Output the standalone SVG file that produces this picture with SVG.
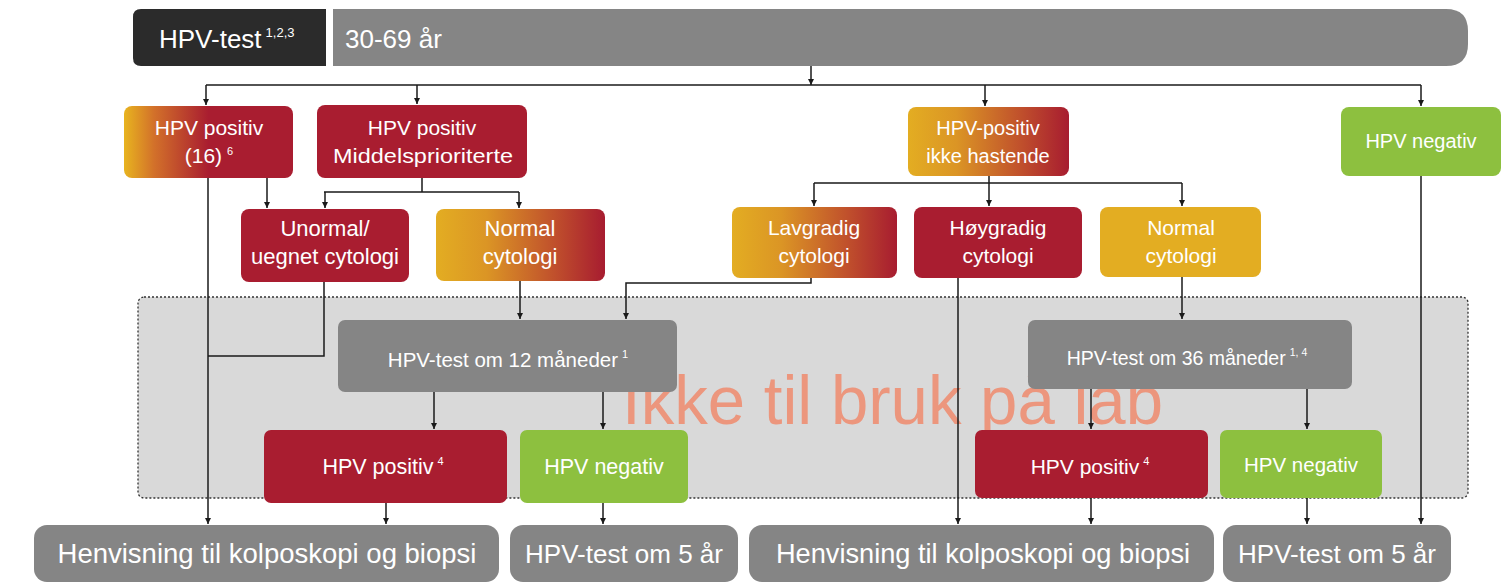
<svg xmlns="http://www.w3.org/2000/svg" width="1512" height="586" viewBox="0 0 1512 586">
<defs>
<linearGradient id="g16" x1="0" y1="0" x2="1" y2="0">
<stop offset="0" stop-color="#E8B41F"/>
<stop offset="0.18" stop-color="#D2702A"/>
<stop offset="0.5" stop-color="#A91D30"/>
<stop offset="1" stop-color="#A91D30"/>
</linearGradient>
<linearGradient id="gyr" x1="0" y1="0" x2="1" y2="0">
<stop offset="0" stop-color="#E3AD22"/>
<stop offset="0.3" stop-color="#DB9525"/>
<stop offset="0.7" stop-color="#C0502C"/>
<stop offset="1" stop-color="#A71C30"/>
</linearGradient>
<marker id="ah" viewBox="0 0 10 10" refX="10" refY="5" markerWidth="6" markerHeight="6" markerUnits="userSpaceOnUse" orient="auto">
<path d="M0,0 L10,5 L0,10 z" fill="#1a1a1a"/>
</marker>
<style>
.t{font-family:"Liberation Sans",Arial,sans-serif;fill:#fff;text-anchor:middle}
.red{fill:#A91D30}
.grn{fill:#8DC03F}
.yel{fill:#E3AD22}
.gry{fill:#858585}
.c{fill:none;stroke:#1a1a1a;stroke-width:1.5}
.a{marker-end:url(#ah)}
</style>
</defs>
<rect width="1512" height="586" fill="#fff"/>

<!-- shaded region -->
<rect id="region" x="138" y="297" width="1330" height="201" rx="6" fill="#D9D9D9" stroke="#333" stroke-width="1.3" stroke-dasharray="2,2"/>

<!-- watermark -->
<text x="622" y="424" font-family="Liberation Sans,Arial,sans-serif" font-size="68" textLength="541" lengthAdjust="spacingAndGlyphs" fill="#EE8A6C" fill-opacity="0.85">Ikke til bruk på lab</text>

<!-- top bar -->
<g id="top-left">
<path d="M141,9 H326 V66 H141 Q133,66 133,58 V17 Q133,9 141,9 Z" fill="#2B2B2B"/>
<text x="159" y="48" font-family="Liberation Sans,Arial,sans-serif" font-size="26" fill="#fff">HPV-test<tspan dx="4" dy="-11" font-size="13">1,2,3</tspan></text>
</g>
<g id="top-bar">
<path d="M333,9 H1446 Q1468,9 1468,31 V44 Q1468,66 1446,66 H333 Z" fill="#858585"/>
<text x="345" y="48" font-family="Liberation Sans,Arial,sans-serif" font-size="26" fill="#fff">30-69 år</text>
</g>

<!-- row 1 -->
<g id="n-pos16">
<rect x="124" y="106" width="169" height="72" rx="8" fill="url(#g16)"/>
<text class="t" x="209" y="135" font-size="21">HPV positiv</text>
<text class="t" x="209" y="163" font-size="21">(16)<tspan dx="5" dy="-8" font-size="11">6</tspan></text>
</g>
<g id="n-mid">
<rect class="red" x="317" y="105" width="210" height="73" rx="8"/>
<text class="t" x="422" y="135" font-size="21">HPV positiv</text>
<text class="t" x="423" y="163" font-size="21" textLength="180" lengthAdjust="spacingAndGlyphs">Middelsprioriterte</text>
</g>
<g id="n-ikke">
<rect x="908" y="107" width="161" height="69" rx="8" fill="url(#gyr)"/>
<text class="t" x="988" y="135" font-size="20">HPV-positiv</text>
<text class="t" x="988" y="163" font-size="20">ikke hastende</text>
</g>
<g id="n-neg">
<rect class="grn" x="1341" y="107" width="160" height="69" rx="8"/>
<text class="t" x="1421" y="148" font-size="20">HPV negativ</text>
</g>

<!-- row 2 -->
<g id="n-unormal">
<rect class="red" x="241" y="209" width="168" height="73" rx="8"/>
<text class="t" x="325" y="236" font-size="22">Unormal/</text>
<text class="t" x="325" y="264" font-size="22">uegnet cytologi</text>
</g>
<g id="n-normal1">
<rect x="436" y="209" width="169" height="72" rx="8" fill="url(#gyr)"/>
<text class="t" x="520" y="236" font-size="22">Normal</text>
<text class="t" x="520" y="264" font-size="22">cytologi</text>
</g>
<g id="n-lav">
<rect x="732" y="207" width="165" height="71" rx="8" fill="url(#gyr)"/>
<text class="t" x="814" y="235" font-size="21">Lavgradig</text>
<text class="t" x="814" y="263" font-size="21">cytologi</text>
</g>
<g id="n-hoy">
<rect class="red" x="914" y="207" width="168" height="71" rx="8"/>
<text class="t" x="998" y="235" font-size="21">Høygradig</text>
<text class="t" x="998" y="263" font-size="21">cytologi</text>
</g>
<g id="n-normal2">
<rect class="yel" x="1100" y="207" width="161" height="70" rx="8"/>
<text class="t" x="1181" y="235" font-size="21">Normal</text>
<text class="t" x="1181" y="263" font-size="21">cytologi</text>
</g>

<!-- row 3 -->
<g id="n-12m">
<rect class="gry" x="338" y="320" width="339" height="72" rx="7"/>
<text class="t" x="508" y="367" font-size="20.5">HPV-test om 12 måneder<tspan dx="4" dy="-9" font-size="11">1</tspan></text>
</g>
<g id="n-36m">
<rect class="gry" x="1028" y="320" width="324" height="69" rx="7"/>
<text class="t" x="1187" y="365" font-size="19.5">HPV-test om 36 måneder<tspan dx="4" dy="-9" font-size="10.5">1, 4</tspan></text>
</g>

<!-- row 4 -->
<g id="n-pos4a">
<rect class="red" x="264" y="430" width="243" height="73" rx="7"/>
<text class="t" x="383" y="474" font-size="21.5">HPV positiv<tspan dx="4" dy="-9" font-size="11">4</tspan></text>
</g>
<g id="n-nega">
<rect class="grn" x="520" y="430" width="168" height="73" rx="7"/>
<text class="t" x="604" y="474" font-size="21.5">HPV negativ</text>
</g>
<g id="n-pos4b">
<rect class="red" x="975" y="430" width="233" height="68" rx="7"/>
<text class="t" x="1090" y="474" font-size="21">HPV positiv<tspan dx="4" dy="-9" font-size="11">4</tspan></text>
</g>
<g id="n-negb">
<rect class="grn" x="1220" y="430" width="162" height="68" rx="7"/>
<text class="t" x="1301" y="472" font-size="20.5">HPV negativ</text>
</g>

<!-- bottom row -->
<g id="n-henv1">
<rect class="gry" x="34" y="525" width="465" height="57" rx="13"/>
<text class="t" x="267" y="563" font-size="27.5">Henvisning til kolposkopi og biopsi</text>
</g>
<g id="n-5ar1">
<rect class="gry" x="510" y="525" width="228" height="57" rx="13"/>
<text class="t" x="624" y="563" font-size="26">HPV-test om 5 år</text>
</g>
<g id="n-henv2">
<rect class="gry" x="749" y="525" width="465" height="57" rx="13"/>
<text class="t" x="983" y="563" font-size="27.2">Henvisning til kolposkopi og biopsi</text>
</g>
<g id="n-5ar2">
<rect class="gry" x="1223" y="525" width="228" height="57" rx="13"/>
<text class="t" x="1337" y="563" font-size="26">HPV-test om 5 år</text>
</g>

<!-- connectors -->
<g id="connectors">
<path class="c a" d="M811,66 V85"/>
<path class="c" d="M206,85 H1421"/>
<path class="c a" d="M206,85 V105"/>
<path class="c a" d="M417,85 V104"/>
<path class="c a" d="M985,85 V106"/>
<path class="c a" d="M1421,85 V106"/>

<path class="c a" d="M208,178 V524"/>
<path class="c a" d="M267,178 V208"/>
<path class="c" d="M422,178 V192 M324,192 H519"/>
<path class="c a" d="M325,192 V208"/>
<path class="c a" d="M519,192 V208"/>

<path class="c" d="M989,176 V183 M814,183 H1182"/>
<path class="c a" d="M814,183 V206"/>
<path class="c a" d="M989,183 V206"/>
<path class="c a" d="M1182,183 V206"/>

<path class="c" d="M324,282 V356 H208"/>
<path class="c a" d="M520,281 V319"/>
<path class="c a" d="M811,278 V283 H626 V319"/>
<path class="c a" d="M958,278 V524"/>
<path class="c a" d="M1182,277 V319"/>
<path class="c a" d="M1421,176 V524"/>

<path class="c a" d="M434,392 V429"/>
<path class="c a" d="M603,392 V429"/>
<path class="c a" d="M1091,389 V429"/>
<path class="c a" d="M1307,389 V429"/>

<path class="c a" d="M386,503 V524"/>
<path class="c a" d="M603,503 V524"/>
<path class="c a" d="M1091,498 V524"/>
<path class="c a" d="M1307,498 V524"/>
</g>
</svg>
